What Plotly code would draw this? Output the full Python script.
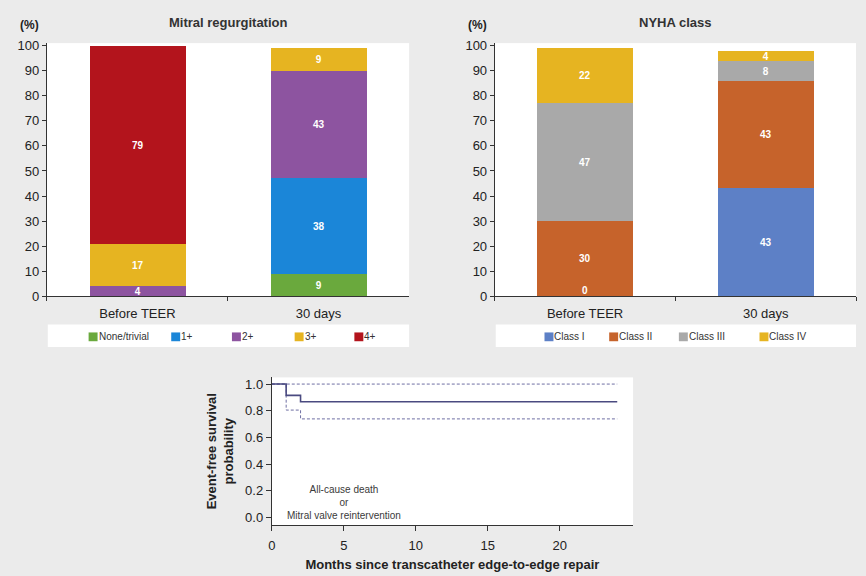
import plotly.graph_objects as go

# ---- data -------------------------------------------------------------
timepoints = ["Before TEER", "30 days"]

mr_grades = ["None/trivial", "1+", "2+", "3+", "4+"]
mr_values = {
    "None/trivial": [0, 9],
    "1+": [0, 38],
    "2+": [4, 43],
    "3+": [17, 9],
    "4+": [79, 0],
}
mr_colors = ["#6aa93d", "#1b86d8", "#8d54a0", "#e6b421", "#b3141c"]

nyha_classes = ["Class I", "Class II", "Class III", "Class IV"]
nyha_values = {
    "Class I": [0, 43],
    "Class II": [30, 43],
    "Class III": [47, 8],
    "Class IV": [22, 4],
}
nyha_colors = ["#5d80c6", "#c6632b", "#a9a9a9", "#e6b421"]

km_months = [0, 1, 2, 24]
km_survival = [1.0, 0.915, 0.868, 0.868]
km_upper = [1.0, 1.0, 1.0, 1.0]
km_lower = [1.0, 0.805, 0.739, 0.739]

# ---- layout helpers ---------------------------------------------------
W, H = 866, 576
FONT = "Liberation Sans, Arial, sans-serif"
BG = "#ebebeb"
AX = "#333333"


def px_x(p):
    return p / W


def px_y(p):
    return 1 - p / H


fig = go.Figure()


def add_stack(series, names, colors, xa, ya):
    for name, col in zip(names, colors):
        vals = series[name]
        fig.add_trace(go.Bar(
            x=timepoints, y=vals, name=name, marker_color=col, marker_line_width=0,
            text=[f"<b>{v}</b>" if v > 0 else "" for v in vals],
            textposition="inside", insidetextanchor="middle", constraintext="none",
            textangle=0, textfont=dict(color="white", size=10, family=FONT),
            width=0.53, xaxis=xa, yaxis=ya, showlegend=False, hoverinfo="skip",
        ))


add_stack(mr_values, mr_grades, mr_colors, "x", "y")
add_stack(nyha_values, nyha_classes, nyha_colors, "x2", "y2")

# zero-height bottom segment still carries its value label at the bar base
for cat, v in zip(timepoints, nyha_values[nyha_classes[0]]):
    if v == 0:
        fig.add_annotation(x=cat, y=v, xref="x2", yref="y2", text=f"<b>{v}</b>",
                           showarrow=False, yshift=6,
                           font=dict(color="white", size=10, family=FONT))

# ---- Kaplan-Meier curve -----------------------------------------------
km_col = "#4a4a80"
ci_col = "#6f6fa3"
for band in (km_upper, km_lower):
    fig.add_trace(go.Scatter(x=km_months, y=band, mode="lines", line_shape="hv",
                             line=dict(color=ci_col, width=1, dash="3px,2px"),
                             xaxis="x3", yaxis="y3", showlegend=False,
                             hoverinfo="skip"))
fig.add_trace(go.Scatter(x=km_months, y=km_survival, mode="lines", line_shape="hv",
                         line=dict(color=km_col, width=1.6),
                         xaxis="x3", yaxis="y3", showlegend=False, hoverinfo="skip"))

fig.add_annotation(x=5.0, y=0.112, xref="x3", yref="y3",
                   text="All-cause death<br>or<br>Mitral valve reintervention",
                   showarrow=False, align="center",
                   font=dict(size=10, color="#3a3a3a", family=FONT))

# ---- axes -------------------------------------------------------------
cat_axis = dict(type="category", range=[-0.5, 1.5], showline=True, linecolor=AX,
                linewidth=1, ticks="outside", tickson="boundaries", ticklen=4,
                tickcolor=AX, tickfont=dict(size=13, color="#222", family=FONT),
                ticklabelstandoff=5, showgrid=False, zeroline=False, fixedrange=True)
pct_axis = dict(range=[0, 101], tickvals=list(range(0, 101, 10)), showline=True,
                linecolor=AX, linewidth=1, ticks="outside", ticklen=4, tickcolor=AX,
                tickfont=dict(size=13, color="#222", family=FONT), showgrid=False,
                zeroline=False, fixedrange=True)

fig.update_layout(
    width=W, height=H, margin=dict(l=0, r=0, t=0, b=0),
    paper_bgcolor=BG, plot_bgcolor="white", barmode="stack", bargap=0,
    font=dict(family=FONT, color="#222"), showlegend=False,
    xaxis=dict(cat_axis, domain=[px_x(43), px_x(407)], anchor="y"),
    yaxis=dict(pct_axis, domain=[px_y(298), px_y(39)], anchor="x"),
    xaxis2=dict(cat_axis, domain=[px_x(493), px_x(856)], anchor="y2"),
    yaxis2=dict(pct_axis, domain=[px_y(298), px_y(39)], anchor="x2"),
    xaxis3=dict(range=[0, 25.1], tickvals=[0, 5, 10, 15, 20], showline=True,
                linecolor=AX, linewidth=1, ticks="outside", ticklen=5, tickcolor=AX,
                tickfont=dict(size=13, color="#222", family=FONT), ticklabelstandoff=3,
                showgrid=False, zeroline=False, domain=[px_x(269), px_x(632)],
                anchor="y3",
                title=dict(text="<b>Months since transcatheter edge-to-edge repair</b>",
                           font=dict(size=13, color="#222", family=FONT), standoff=8),
                fixedrange=True),
    yaxis3=dict(range=[-0.056, 1.05], tickvals=[0, 0.2, 0.4, 0.6, 0.8, 1.0],
                tickformat=".1f", showline=True, linecolor=AX, linewidth=1,
                ticks="outside", ticklen=5, tickcolor=AX,
                tickfont=dict(size=13, color="#222", family=FONT), showgrid=False,
                zeroline=False, domain=[px_y(532), px_y(381)], anchor="x3",
                title=dict(text="<b>Event-free survival<br>probability</b>",
                           font=dict(size=13, color="#222", family=FONT), standoff=8),
                fixedrange=True),
)

# ---- legend panels: white strip, colour key square, label ---------------
legend_specs = [
    ((44, 407), mr_grades, mr_colors, [85, 168, 229, 292, 352]),
    ((494, 856), nyha_classes, nyha_colors, [543, 608, 678, 759]),
]
key_top, key_bot = 335, 344
for (x0, x1), names, colors, lefts in legend_specs:
    fig.add_shape(type="rect", xref="paper", yref="paper", x0=px_x(x0), x1=px_x(x1),
                  y0=px_y(350), y1=px_y(327), fillcolor="white", line_width=0,
                  layer="below")
    for name, col, lx in zip(names, colors, lefts):
        fig.add_shape(type="rect", xref="paper", yref="paper", x0=px_x(lx),
                      x1=px_x(lx + 9), y0=px_y(key_bot), y1=px_y(key_top),
                      fillcolor=col, line_width=0)
        fig.add_annotation(x=px_x(lx + 9), y=px_y((key_top + key_bot) / 2),
                           xref="paper", yref="paper", text=name, showarrow=False,
                           xanchor="left", yanchor="middle", xshift=-1,
                           font=dict(size=10, color="#333", family=FONT))

# panel titles
for txt, xc in [("<b>Mitral regurgitation</b>", 226), ("<b>NYHA class</b>", 675)]:
    fig.add_annotation(x=px_x(xc), y=px_y(18), xref="paper", yref="paper", text=txt,
                       showarrow=False, xanchor="center", yanchor="middle",
                       font=dict(size=13, color="#333", family=FONT))
for xl in [26, 476]:
    fig.add_annotation(x=px_x(xl), y=px_y(20), xref="paper", yref="paper",
                       text="<b>(%)</b>", showarrow=False, xanchor="center",
                       yanchor="middle", font=dict(size=12, color="#222", family=FONT))

fig.write_html("out.html")
